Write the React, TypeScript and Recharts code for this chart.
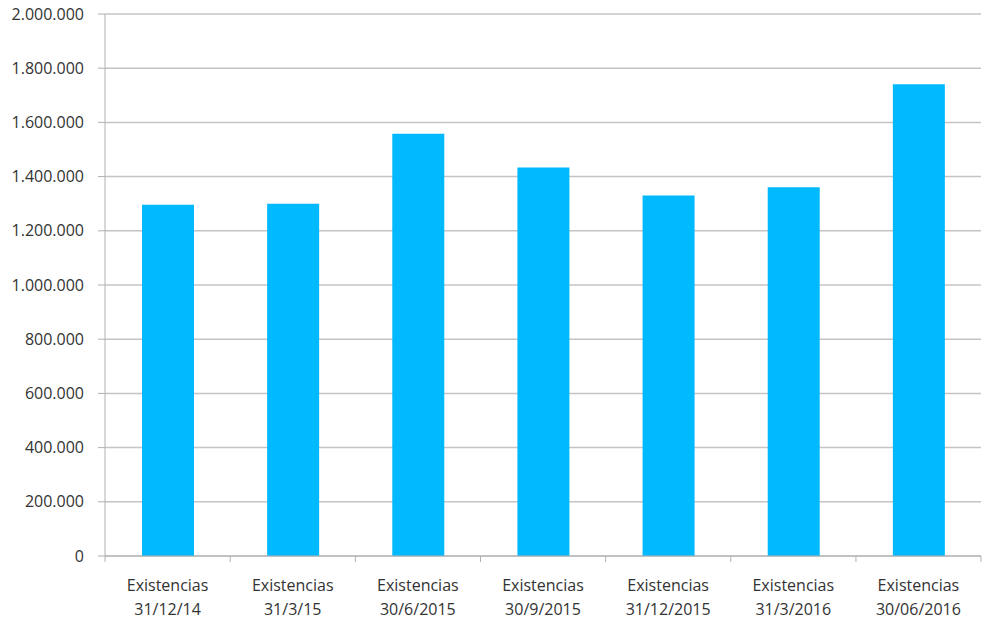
import React from "react";
import { BarChart, Bar, XAxis, YAxis, CartesianGrid } from "recharts";

const categories = [
  "Existencias|31/12/14",
  "Existencias|31/3/15",
  "Existencias|30/6/2015",
  "Existencias|30/9/2015",
  "Existencias|31/12/2015",
  "Existencias|31/3/2016",
  "Existencias|30/06/2016",
];
const existencias = [1296000, 1300000, 1558000, 1434000, 1330000, 1361000, 1741000];
const yTicks = [0, 200000, 400000, 600000, 800000, 1000000, 1200000, 1400000, 1600000, 1800000, 2000000];

const data = categories.map((c, i) => ({ name: c, value: existencias[i] }));

const FONT = "'Open Sans', sans-serif";
const TEXT = "#333333";
const GRID = "#c4c4c4";
const AXIS = "#b0b0b0";

const fmt = (v: number) => String(v).replace(/\B(?=(\d{3})+(?!\d))/g, ".");

const XTick = (props: any) => {
  const { x, y, payload, index } = props;
  const half = 62.5;
  const [a, b] = String(payload.value).split("|");
  return (
    <g>
      <line x1={x - half} y1={y} x2={x - half} y2={y + 6} stroke={AXIS} />
      {index === categories.length - 1 && (
        <line x1={x + half} y1={y} x2={x + half} y2={y + 6} stroke={AXIS} />
      )}
      <text textAnchor="middle" fill={TEXT} fontSize={16} fontFamily={FONT}>
        <tspan x={x} y={y + 35}>{a}</tspan>
        <tspan x={x} y={y + 59}>{b}</tspan>
      </text>
    </g>
  );
};

export default function App() {
  return (
    <div style={{ position: "absolute", left: 0, top: 0, background: "#fff" }}>
      <BarChart
        width={982}
        height={619}
        data={data}
        margin={{ top: 14, right: 1, left: 0, bottom: 0 }}
      >
        <CartesianGrid vertical={false} stroke={GRID} strokeWidth={1.5} />
        <XAxis
          dataKey="name"
          tick={<XTick />}
          tickLine={false}
          tickSize={0}
          tickMargin={0}
          height={63}
          stroke={AXIS}
          interval={0}
        />
        <YAxis
          domain={[0, 2000000]}
          ticks={yTicks}
          tickFormatter={fmt}
          width={105}
          tickSize={7}
          tickMargin={14}
          stroke={AXIS}
          tick={{ fill: TEXT, fontSize: 16, fontFamily: FONT }}
          interval={0}
        />
        <Bar dataKey="value" fill="#00B9FF" barSize={52} isAnimationActive={false} />
      </BarChart>
    </div>
  );
}
